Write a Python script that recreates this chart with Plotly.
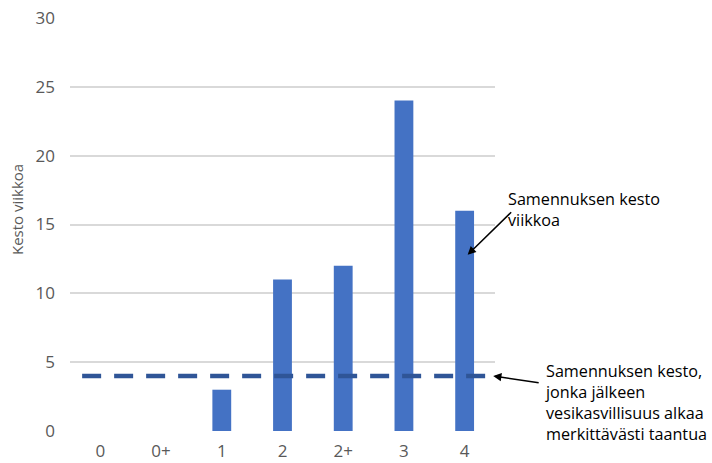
import plotly.graph_objects as go

# Turbidity class and duration of turbidity (weeks)
categories = ["0", "0+", "1", "2", "2+", "3", "4"]
duration_weeks = [0, 0, 3, 11, 12, 24, 16]
threshold_weeks = 4
y_ticks = [0, 5, 10, 15, 20, 25, 30]

FONT = "Open Sans"
BAR_COLOR = "#4472C4"
LINE_COLOR = "#2F5597"
TICK_COLOR = "#595959"
NOTE_SIZE = 16.2

fig = go.Figure()

fig.add_trace(go.Bar(
    x=categories,
    y=duration_weeks,
    marker=dict(color=BAR_COLOR, line=dict(width=0)),
    width=0.31,
    showlegend=False,
    hoverinfo="x+y",
))

# Threshold duration after which aquatic vegetation declines
fig.add_shape(
    type="line", xref="x", yref="y",
    x0=-0.3, x1=6.37, y0=threshold_weeks, y1=threshold_weeks,
    line=dict(color=LINE_COLOR, width=4.5, dash="19px,13px"),
    layer="above",
)

n = len(categories)
last = n - 1

# Callouts
fig.add_annotation(
    xref="x", yref="y", x=last + 0.05, y=12.8,
    ax=45, ay=-44, axref="pixel", ayref="pixel",
    showarrow=True, arrowhead=2, arrowsize=1.1, arrowwidth=1.5,
    arrowcolor="#000000", text="",
)
fig.add_annotation(
    xref="paper", yref="paper", x=(506 - 70) / 425, y=(431 - 186) / 413,
    xanchor="left", yanchor="top", align="left", showarrow=False,
    text="Samennuksen kesto<br>viikkoa",
    font=dict(family=FONT, size=NOTE_SIZE, color="#000000"),
)
fig.add_annotation(
    xref="x", yref="y", x=last + 0.47, y=threshold_weeks,
    ax=47, ay=7, axref="pixel", ayref="pixel",
    showarrow=True, arrowhead=2, arrowsize=1.1, arrowwidth=1.5,
    arrowcolor="#000000", text="",
)
fig.add_annotation(
    xref="paper", yref="paper", x=(543 - 70) / 425, y=(431 - 358) / 413,
    xanchor="left", yanchor="top", align="left", showarrow=False,
    text="Samennuksen kesto,<br>jonka jälkeen<br>vesikasvillisuus alkaa<br>merkittävästi taantua",
    font=dict(family=FONT, size=NOTE_SIZE, color="#000000"),
)

# Y-axis title
fig.add_annotation(
    xref="paper", yref="paper", x=(17 - 70) / 425, y=(431 - 210) / 413,
    xanchor="center", yanchor="middle", textangle=-90, showarrow=False,
    text="Kesto viikkoa",
    font=dict(family=FONT, size=15, color=TICK_COLOR),
)

fig.update_layout(
    width=712, height=463,
    margin=dict(l=70, r=217, t=18, b=32, autoexpand=False),
    paper_bgcolor="white", plot_bgcolor="white",
    font=dict(family=FONT, size=17, color=TICK_COLOR),
    bargap=0.69,
)
fig.update_xaxes(
    type="category", range=[-0.5, n - 0.5], automargin=False,
    showgrid=False, showline=False, zeroline=False, ticks="",
    ticklabelstandoff=8,
    tickfont=dict(family=FONT, size=17, color=TICK_COLOR),
)
fig.update_yaxes(
    range=[0, 30], tickvals=y_ticks, automargin=False,
    showgrid=True, gridcolor="#D9D9D9", gridwidth=1.5,
    showline=False, zeroline=False, ticks="",
    ticklabelstandoff=14,
    tickfont=dict(family=FONT, size=17, color=TICK_COLOR),
)

fig.write_html("out.html")
